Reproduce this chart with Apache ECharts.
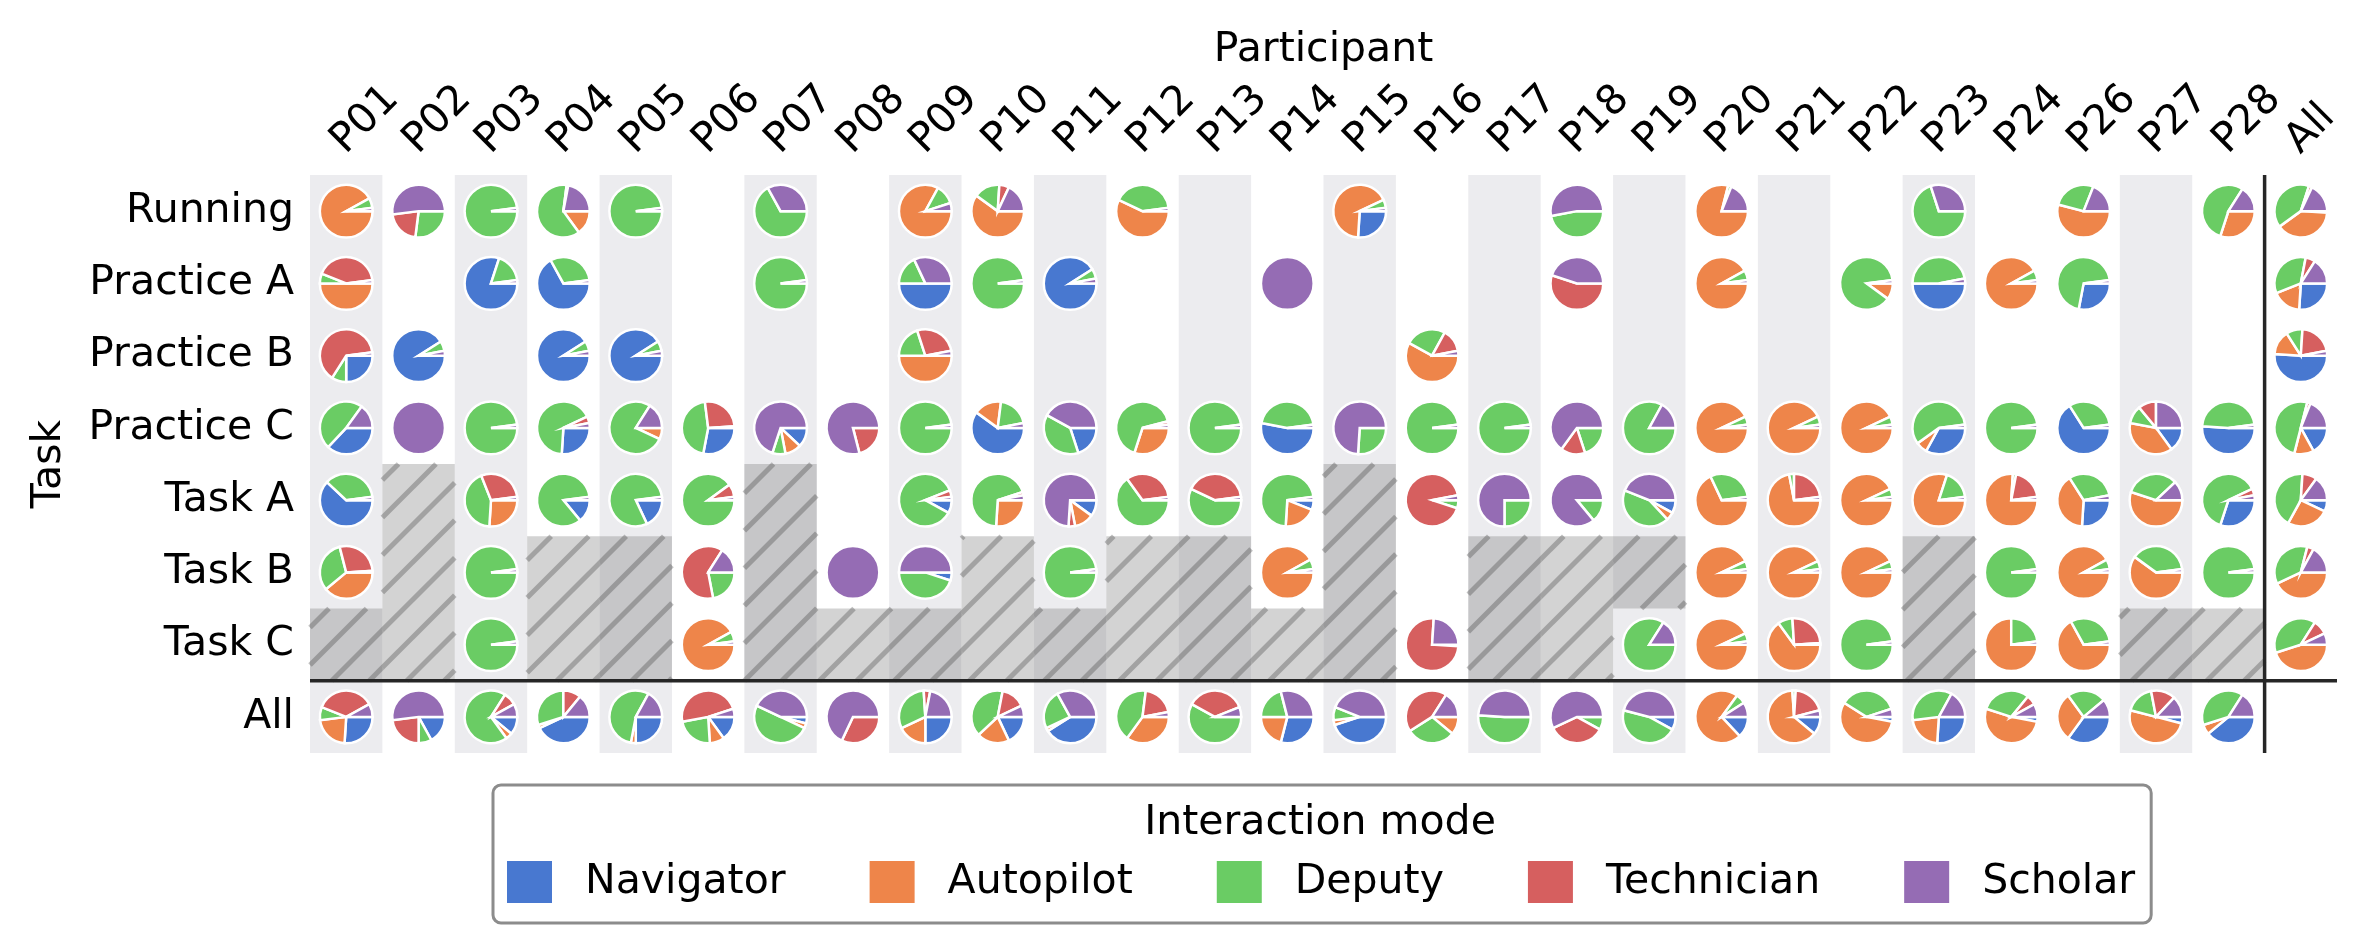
<!DOCTYPE html>
<html>
<head>
<meta charset="utf-8">
<title>Interaction mode by participant and task</title>
<script src="https://cdn.jsdelivr.net/npm/echarts@6/dist/echarts.min.js"></script>
<style>
  html, body { margin: 0; padding: 0; background: #fff; }
  #chart { width: 2363px; height: 952px; }
</style>
</head>
<body>
<div id="chart"></div>
<script>
// columns and rows of the grid
const participants = ['P01', 'P02', 'P03', 'P04', 'P05', 'P06', 'P07', 'P08', 'P09', 'P10',
  'P11', 'P12', 'P13', 'P14', 'P15', 'P16', 'P17', 'P18', 'P19', 'P20',
  'P21', 'P22', 'P23', 'P24', 'P26', 'P27', 'P28', 'All'];
const tasks = ['Running', 'Practice A', 'Practice B', 'Practice C', 'Task A', 'Task B', 'Task C', 'All'];

const modes = ['Navigator', 'Autopilot', 'Deputy', 'Technician', 'Scholar'];
const modeColors = ['#4878d0', '#ee854a', '#6acc64', '#d65f5f', '#956cb4'];

// share of each mode (%), order: Navigator, Autopilot, Deputy, Technician, Scholar
// one entry per participant column, null = no pie
const running = [
  [0, 92, 6, 0, 2], [0, 0, 27, 21, 52], [0, 0, 98, 0, 2], [0, 15, 62, 1, 22], [0, 0, 98, 0, 2],
  null, [0, 0, 67, 0, 33], null, [0, 83, 12, 0, 5], [0, 60, 16, 6, 18],
  null, [0, 57, 41, 0, 2], null, null, [26, 67, 5, 0, 2],
  null, null, [0, 0, 47, 0, 53], null, [0, 79, 2, 0, 19],
  null, null, [0, 0, 70, 0, 30], null, [0, 54, 27, 0, 19],
  null, [0, 30, 54, 0, 16], [1, 39, 40, 2, 18]
];
const practiceA = [
  [0, 50, 6, 42, 2], null, [80, 0, 18, 0, 2], [67, 0, 31, 0, 2], null,
  null, [0, 0, 98, 0, 2], null, [50, 0, 18, 0, 32], [0, 0, 98, 0, 2],
  [91, 0, 6, 0, 3], null, null, [0, 0, 0, 0, 100], null,
  null, null, [0, 0, 0, 55, 45], null, [0, 92, 6, 0, 2],
  null, [0, 10, 88, 0, 2], [50, 0, 47, 0, 3], [0, 92, 6, 0, 2], [28, 0, 70, 0, 2],
  null, null, [26, 18, 34, 6, 16]
];
const practiceB = [
  [25, 0, 9, 64, 2], [91, 0, 6, 0, 3], null, [91, 0, 6, 0, 3], [91, 0, 6, 0, 3],
  null, null, null, [0, 50, 20, 27, 3], null,
  null, null, null, null, null,
  [0, 58, 25, 14, 3], null, null, null, null,
  null, null, null, null, null,
  null, null, [51, 15, 10, 21, 3]
];
const practiceC = [
  [37, 0, 48, 0, 15], [0, 0, 0, 0, 100], [0, 0, 98, 0, 2], [26, 0, 67, 4, 3], [0, 7, 77, 0, 16],
  [28, 0, 45, 26, 1], [12, 10, 8, 0, 70], [0, 0, 0, 21, 79], [0, 0, 98, 0, 2], [60, 17, 20, 0, 3],
  [20, 0, 38, 0, 42], [0, 30, 66, 2, 2], [0, 0, 98, 0, 2], [53, 0, 45, 0, 2], [0, 0, 26, 0, 74],
  [0, 0, 98, 0, 2], [0, 0, 98, 0, 2], [0, 0, 20, 15, 65], [0, 0, 83, 0, 17], [0, 93, 5, 0, 2],
  [0, 93, 5, 0, 2], [0, 93, 5, 0, 2], [33, 7, 58, 0, 2], [0, 0, 98, 0, 2], [66, 0, 32, 0, 2],
  [15, 38, 11, 11, 25], [51, 0, 47, 0, 2], [17, 12, 50, 2, 19]
];
const taskA = [
  [62, 0, 36, 0, 2], null, [0, 26, 43, 29, 2], [14, 0, 84, 0, 2], [18, 0, 80, 0, 2],
  [0, 0, 90, 8, 2], null, null, [8, 0, 86, 4, 2], [0, 26, 69, 2, 3],
  [10, 12, 0, 4, 74], [0, 0, 65, 33, 2], [0, 0, 57, 41, 2], [6, 20, 72, 0, 2], null,
  [0, 0, 5, 92, 3], [0, 0, 25, 0, 75], [0, 0, 14, 0, 86], [8, 5, 43, 0, 44], [0, 68, 30, 0, 2],
  [0, 72, 3, 23, 2], [0, 93, 5, 0, 2], [0, 80, 18, 0, 2], [0, 76, 2, 20, 2], [26, 40, 31, 0, 3],
  [0, 55, 33, 0, 12], [30, 0, 63, 4, 3], [7, 26, 43, 9, 15]
];
const taskB = [
  [0, 39, 32, 28, 1], null, [0, 0, 98, 0, 2], null, null,
  [0, 0, 22, 62, 16], null, [0, 0, 0, 0, 100], [5, 0, 45, 0, 50], null,
  [0, 0, 98, 0, 2], null, null, [0, 92, 6, 0, 2], null,
  null, null, null, null, [0, 93, 5, 0, 2],
  [0, 93, 5, 0, 2], [0, 93, 5, 0, 2], null, [0, 0, 98, 0, 2], [0, 92, 6, 0, 2],
  [0, 60, 38, 0, 2], [0, 0, 98, 0, 2], [0, 43, 36, 4, 17]
];
const taskC = [
  null, null, [0, 0, 98, 0, 2], null, null,
  [0, 92, 6, 0, 2], null, null, null, null,
  null, null, null, null, null,
  [0, 0, 1, 75, 24], null, null, [0, 0, 84, 0, 16], [0, 93, 5, 0, 2],
  [0, 65, 9, 25, 1], [0, 0, 98, 0, 2], null, [0, 75, 23, 0, 2], [0, 67, 31, 0, 2],
  null, null, [0, 45, 39, 9, 7]
];
const allTasks = [
  [26, 22, 8, 36, 8], [17, 0, 8, 23, 52], [11, 4, 69, 8, 8], [43, 2, 30, 11, 14], [25, 3, 55, 0, 17],
  [15, 9, 23, 48, 5], [4, 3, 50, 0, 43], [0, 0, 0, 32, 68], [25, 18, 31, 4, 22], [18, 20, 40, 15, 7],
  [41, 2, 24, 0, 33], [0, 35, 42, 20, 3], [0, 0, 58, 36, 6], [29, 21, 21, 0, 29], [45, 3, 8, 0, 44],
  [0, 11, 30, 43, 16], [0, 0, 51, 0, 49], [0, 0, 8, 35, 57], [8, 0, 46, 0, 46], [13, 72, 6, 0, 9],
  [11, 63, 2, 20, 4], [3, 56, 36, 0, 5], [26, 22, 35, 0, 17], [3, 52, 31, 6, 8], [35, 30, 24, 0, 11],
  [4, 50, 18, 15, 13], [39, 6, 39, 0, 16], null
];

// tasks a participant did not do (hatched): [participant, first task, last task]
const notApplicable = [
  ['P01', 'Task C', 'Task C'], ['P02', 'Task A', 'Task C'], ['P04', 'Task B', 'Task C'],
  ['P05', 'Task B', 'Task C'], ['P07', 'Task A', 'Task C'], ['P08', 'Task C', 'Task C'],
  ['P09', 'Task C', 'Task C'], ['P10', 'Task B', 'Task C'], ['P11', 'Task C', 'Task C'],
  ['P12', 'Task B', 'Task C'], ['P13', 'Task B', 'Task C'], ['P14', 'Task C', 'Task C'],
  ['P15', 'Task A', 'Task C'], ['P17', 'Task B', 'Task C'], ['P18', 'Task B', 'Task C'],
  ['P19', 'Task B', 'Task B'], ['P23', 'Task B', 'Task C'], ['P27', 'Task C', 'Task C'],
  ['P28', 'Task C', 'Task C']
];

const FONT = 'DejaVu Sans';
const rowData = [running, practiceA, practiceB, practiceC, taskA, taskB, taskC, allTasks];

// odd-numbered participants get a light band
const bandData = [];
participants.forEach((p, i) => {
  if (p !== 'All' && parseInt(p.slice(1), 10) % 2 === 1) bandData.push([i, 0]);
});

const hatchData = notApplicable.map(d => [
  participants.indexOf(d[0]), tasks.indexOf(d[1]), tasks.indexOf(d[2])
]);

// one data list per mode: [col, row, startFraction, endFraction]
const sliceData = modes.map(() => []);
rowData.forEach((row, r) => {
  row.forEach((v, c) => {
    if (!v) return;
    const total = v.reduce((a, b) => a + b, 0);
    let acc = 0;
    v.forEach((val, m) => {
      if (val > 0) sliceData[m].push([c, r, acc / total, (acc + val) / total]);
      acc += val;
    });
  });
});

function hatchLines(x0, y0, x1, y1, step) {
  const out = [];
  const start = Math.ceil((x0 + y0) / step) * step;
  for (let c = start; c <= x1 + y1; c += step) {
    const lo = Math.max(x0, c - y1);
    const hi = Math.min(x1, c - y0);
    if (hi - lo > 0.5) {
      out.push({
        type: 'line',
        shape: { x1: lo, y1: c - lo, x2: hi, y2: c - hi },
        style: { stroke: 'rgba(60,60,60,0.32)', lineWidth: 5 }
      });
    }
  }
  return out;
}

const chart = echarts.init(document.getElementById('chart'));

const series = [
  {
    name: 'bands',
    type: 'custom',
    silent: true,
    z: 1,
    encode: { x: 0, y: 1 },
    data: bandData,
    renderItem(params, api) {
      const p = api.coord([api.value(0), 0]);
      const s = api.size([1, 1]);
      return {
        type: 'rect',
        shape: { x: p[0] - s[0] / 2, y: p[1] - s[1] / 2, width: s[0], height: s[1] * tasks.length },
        style: { fill: '#ececef' }
      };
    }
  },
  {
    name: 'not applicable',
    type: 'custom',
    silent: true,
    z: 2,
    encode: { x: 0, y: 1 },
    data: hatchData,
    renderItem(params, api) {
      const a = api.coord([api.value(0), api.value(1)]);
      const b = api.coord([api.value(0), api.value(2)]);
      const s = api.size([1, 1]);
      const x0 = a[0] - s[0] / 2, x1 = a[0] + s[0] / 2;
      const y0 = a[1] - s[1] / 2, y1 = b[1] + s[1] / 2;
      return {
        type: 'group',
        children: [{
          type: 'rect',
          shape: { x: x0, y: y0, width: x1 - x0, height: y1 - y0 },
          style: { fill: 'rgba(128,128,128,0.35)' }
        }].concat(hatchLines(x0, y0, x1, y1, 37.5))
      };
    }
  },
  {
    name: 'separators',
    type: 'custom',
    silent: true,
    z: 3,
    encode: { x: 0, y: 1 },
    data: [[participants.length - 1, tasks.length - 1]],
    renderItem(params, api) {
      const s = api.size([1, 1]);
      const first = api.coord([0, 0]);
      const last = api.coord([participants.length - 1, tasks.length - 1]);
      const left = first[0] - s[0] / 2, right = last[0] + s[0] / 2;
      const top = first[1] - s[1] / 2, bottom = last[1] + s[1] / 2;
      const hy = last[1] - s[1] / 2, vx = last[0] - s[0] / 2;
      const st = { stroke: '#262626', lineWidth: 3.5 };
      return {
        type: 'group',
        children: [
          { type: 'line', shape: { x1: left, y1: hy, x2: right, y2: hy }, style: st },
          { type: 'line', shape: { x1: vx, y1: top, x2: vx, y2: bottom }, style: st }
        ]
      };
    }
  }
];

modes.forEach((mode, m) => {
  series.push({
    name: mode,
    type: 'custom',
    z: 4,
    encode: { x: 0, y: 1 },
    itemStyle: { color: modeColors[m] },
    data: sliceData[m],
    renderItem(params, api) {
      const p = api.coord([api.value(0), api.value(1)]);
      const s = api.size([1, 1]);
      const r = Math.min(s[0], s[1]) * 0.365;
      return {
        type: 'sector',
        shape: {
          cx: p[0], cy: p[1], r: r, r0: 0,
          startAngle: api.value(2) * Math.PI * 2,
          endAngle: api.value(3) * Math.PI * 2,
          clockwise: true
        },
        style: { fill: modeColors[m], stroke: '#fff', lineWidth: 2.5 }
      };
    }
  });
});

const option = {
  animation: false,
  backgroundColor: '#fff',
  textStyle: { fontFamily: FONT },
  grid: { left: 310, right: 26, top: 175, bottom: 199 },
  xAxis: {
    type: 'category',
    data: participants,
    position: 'top',
    boundaryGap: true,
    axisLine: { show: false },
    axisTick: { show: false },
    splitLine: { show: false },
    axisLabel: {
      interval: 0,
      rotate: -45,
      align: 'left',
      verticalAlign: 'bottom',
      overflow: 'none',
      hideOverlap: false,
      padding: [0, 0, 0, 9],
      margin: 7,
      fontSize: 41,
      color: '#000',
      fontFamily: FONT
    },
    name: 'Participant',
    nameLocation: 'middle',
    nameGap: 100,
    nameTextStyle: { fontSize: 41, color: '#000', fontFamily: FONT }
  },
  yAxis: {
    type: 'category',
    data: tasks,
    inverse: true,
    axisLine: { show: false },
    axisTick: { show: false },
    splitLine: { show: false },
    axisLabel: { interval: 0, margin: 16, fontSize: 41, color: '#000', fontFamily: FONT },
    name: 'Task',
    nameLocation: 'middle',
    nameRotate: 90,
    nameGap: 240,
    nameTextStyle: { fontSize: 41, color: '#000', fontFamily: FONT }
  },
  legend: {
    data: modes,
    orient: 'horizontal',
    left: 493,
    top: 785,
    icon: 'rect',
    itemWidth: 45,
    itemHeight: 42,
    itemGap: 84,
    padding: [76, 16, 20, 14],
    borderColor: '#8c8c8c',
    borderWidth: 3,
    borderRadius: 8,
    selectedMode: false,
    textStyle: { fontSize: 41, color: '#000', fontFamily: FONT, padding: [0, 0, 0, 28] }
  },
  graphic: [{
    type: 'text',
    x: 1320,
    y: 823,
    style: {
      text: 'Interaction mode',
      fontSize: 41,
      fontFamily: FONT,
      fill: '#000',
      textAlign: 'center',
      textVerticalAlign: 'middle'
    }
  }],
  series: series
};

chart.setOption(option);
</script>
</body>
</html>
